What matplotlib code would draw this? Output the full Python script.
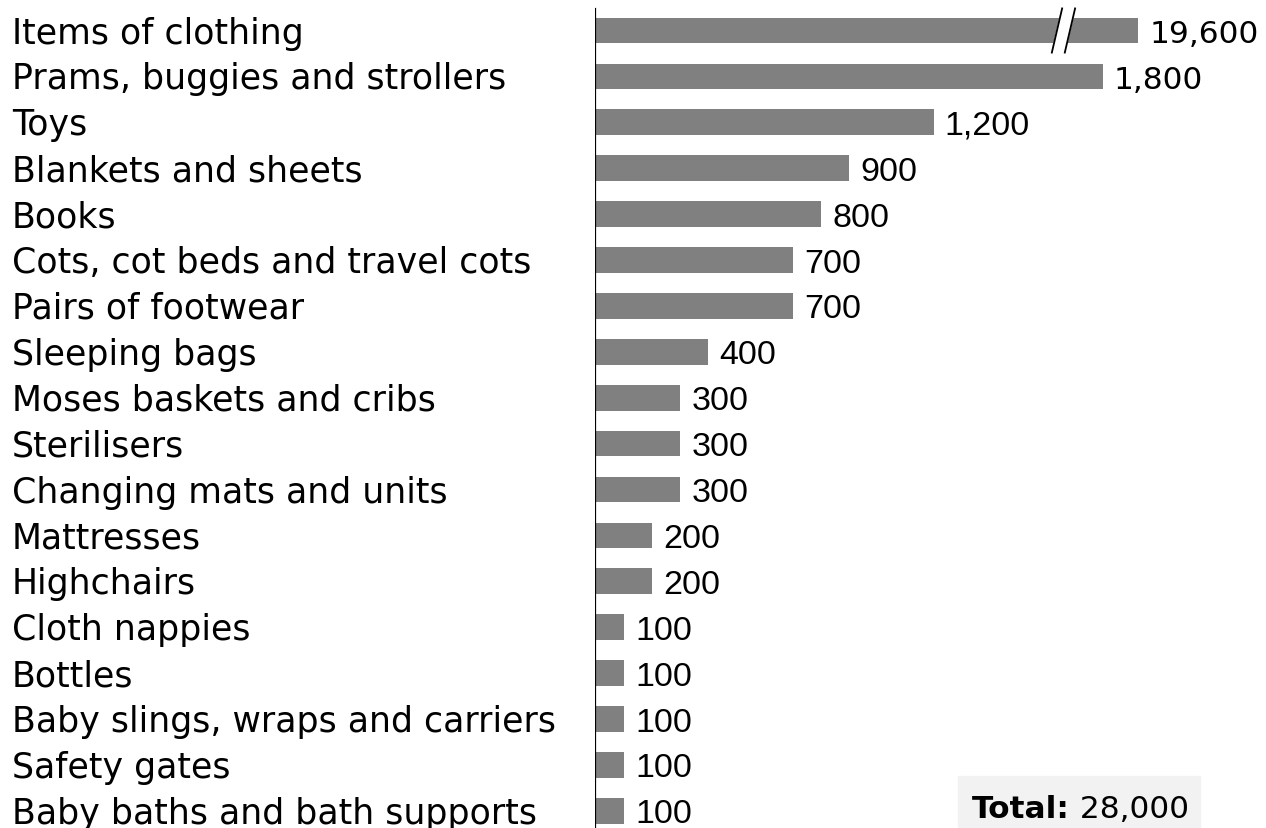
import matplotlib
matplotlib.use('Agg')
import matplotlib.pyplot as plt
from matplotlib.patches import Rectangle, Polygon

# data
categories = ['Items of clothing', 'Prams, buggies and strollers', 'Toys',
              'Blankets and sheets', 'Books', 'Cots, cot beds and travel cots',
              'Pairs of footwear', 'Sleeping bags', 'Moses baskets and cribs',
              'Sterilisers', 'Changing mats and units', 'Mattresses',
              'Highchairs', 'Cloth nappies', 'Bottles',
              'Baby slings, wraps and carriers', 'Safety gates',
              'Baby baths and bath supports']
values = [19600, 1800, 1200, 900, 800, 700, 700, 400, 300, 300, 300,
          200, 200, 100, 100, 100, 100, 100]
total = 28000

W, H = 1266, 829
x0 = 595            # axis position, px
px_per_unit = 0.2817
row0, step = 31.5, 45.9
cut_at = 1925       # drawn length of the broken bar
bar_col = '#808080'
label_font = 'DejaVu Sans'
num_font = 'Liberation Sans'

fig = plt.figure(figsize=(W / 100, H / 100), dpi=100)
ax = fig.add_axes([x0 / W, 0, 1 - x0 / W, 1])
ax.set_xlim(0, (W - x0) / px_per_unit)
ax.set_ylim((H - row0) / step, -row0 / step)
ax.axis('off')

ypos = list(range(len(categories)))
shown = [min(v, cut_at) for v in values]
ax.barh(ypos, shown, height=0.56, color=bar_col, left=2, zorder=2)

# axis line
ax.axvline(0, ymin=0, ymax=1 - 10 / H, color='black', lw=1.6, zorder=3)

# break marks on the long bar
for i, v in enumerate(values):
    if v > cut_at:
        bx, sl, gap = 1640, 19, 46
        ax.add_patch(Polygon([(bx - sl, i + 0.5), (bx + sl, i - 0.5),
                              (bx + sl + gap, i - 0.5), (bx - sl + gap, i + 0.5)],
                             closed=True, color='white', zorder=4))
        for dx in (0, gap):
            ax.plot([bx - sl + dx, bx + sl + dx], [i + 0.5, i - 0.5],
                    color='black', lw=1.3, zorder=5, solid_capstyle='butt')

# value labels
for i, (v, s) in enumerate(zip(values, shown)):
    lab = f'{v:,}'
    if v >= 1500:
        fam, fs = label_font, 22.5
    else:
        fam, fs = num_font, 24.5
    ax.annotate(lab, xy=(s, i), xytext=(8.5, -8.3), textcoords='offset points',
                ha='left', va='baseline', fontsize=fs, family=fam, color='black')

# category labels
for i, c in enumerate(categories):
    ax.annotate(c, xy=(0, i), xycoords=('figure fraction', 'data'),
                xytext=(12 * 0.72, -8.7), textcoords='offset points',
                ha='left', va='baseline', fontsize=25, family=label_font,
                color='black')

# total box
fig.patches.append(Rectangle((958 / W, 0), 242 / W, 52 / H,
                             transform=fig.transFigure, color='#f2f2f2',
                             zorder=0))
t1 = fig.text(972 / W, 11 / H, 'Total:', fontsize=22.5, family=label_font,
              fontweight='bold', ha='left', va='baseline')
fig.canvas.draw()
bb = t1.get_window_extent()
fig.text(bb.x1 / W, 11 / H, f' {total:,}', fontsize=22.5, family=label_font,
         ha='left', va='baseline')

fig.savefig('out.png', dpi=100)
